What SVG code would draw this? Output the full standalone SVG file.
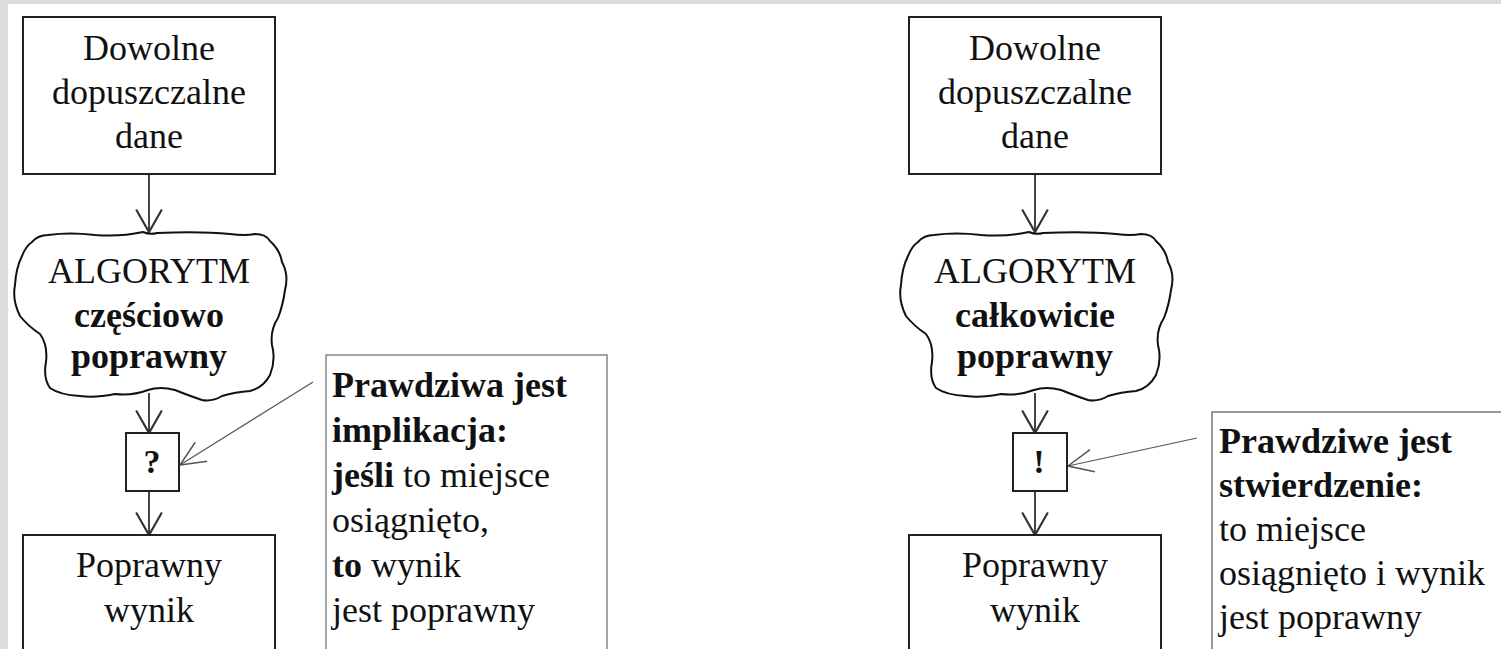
<svg xmlns="http://www.w3.org/2000/svg" width="1501" height="649" viewBox="0 0 1501 649">
<defs>
<style>
text{font-family:'Liberation Serif','Times New Roman',serif;font-size:36px;fill:#111}
.c{text-anchor:middle}
.b{font-weight:bold}
.box{fill:#fff;stroke:#222;stroke-width:2}
.note{fill:#fff;stroke:#777;stroke-width:1.3}
.cloud{fill:#fff;stroke:#111;stroke-width:2;stroke-linejoin:round}
.flow{stroke:#444;stroke-width:2;fill:none}
.ptr{stroke:#555;stroke-width:1.2;fill:none}
</style>
<marker id="ah" markerUnits="userSpaceOnUse" markerWidth="30" markerHeight="30" viewBox="-22 -14 24 28" refX="0" refY="0" orient="auto">
<path d="M-21,-12 L0,0 L-21,12" fill="none" stroke="#333" stroke-width="2"/>
</marker>
<marker id="ap" markerUnits="userSpaceOnUse" markerWidth="30" markerHeight="30" viewBox="-22 -12 24 24" refX="0" refY="0" orient="auto">
<path d="M-20,-9 L0,0 L-20,9" fill="none" stroke="#555" stroke-width="1.2"/>
</marker>
<path id="cl" d="M32,242 Q38,235 48,235 Q70,232 95,235 Q120,237 143,232 Q150,235 157,233 Q200,231 230,234 Q245,236 255,234 Q266,234 270,241 Q280,250 282,262 Q289,275 285,290 Q283,305 278,318 Q270,330 272,345 Q276,360 270,375 Q263,388 250,391 Q235,392 222,396 Q212,402 202,400 Q190,396 175,390 Q160,386 148,390 Q132,396 115,394 Q95,398 80,396 Q60,395 50,388 Q43,378 46,362 Q48,345 40,334 Q28,326 20,316 Q12,300 15,285 Q16,268 22,256 Q26,246 32,242 Z"/>
</defs>
<rect x="0" y="0" width="1501" height="649" fill="#fff"/>
<rect x="0" y="0" width="1501" height="4" fill="#dcdcdc"/>
<rect x="0" y="0" width="8" height="649" fill="#dcdcdc"/>

<g id="connectors">
<line class="flow" x1="149" y1="174" x2="149" y2="232" marker-end="url(#ah)"/>
<line class="flow" x1="149" y1="393" x2="149" y2="433" marker-end="url(#ah)"/>
<line class="flow" x1="149" y1="491" x2="149" y2="535" marker-end="url(#ah)"/>
<line class="ptr" x1="313" y1="382" x2="180" y2="465" marker-end="url(#ap)"/>
<line class="flow" x1="1035" y1="174" x2="1035" y2="232" marker-end="url(#ah)"/>
<line class="flow" x1="1035" y1="393" x2="1035" y2="433" marker-end="url(#ah)"/>
<line class="flow" x1="1035" y1="491" x2="1035" y2="535" marker-end="url(#ah)"/>
<line class="ptr" x1="1197" y1="438" x2="1068" y2="466" marker-end="url(#ap)"/>
</g>

<g id="input-left">
<rect class="box" x="23" y="17" width="252" height="157"/>
<text class="c" x="149" y="60">Dowolne</text>
<text class="c" x="149" y="104">dopuszczalne</text>
<text class="c" x="149" y="148">dane</text>
</g>
<g id="algo-left">
<use href="#cl" class="cloud"/>
<text class="c" x="149" y="283">ALGORYTM</text>
<text class="c b" x="149" y="327">częściowo</text>
<text class="c b" x="149" y="368">poprawny</text>
</g>
<g id="check-left">
<rect class="box" x="126" y="433" width="53" height="58"/>
<text class="c b" x="152" y="473" style="font-size:34px">?</text>
</g>
<g id="output-left">
<rect class="box" x="23" y="535" width="252" height="130"/>
<text class="c" x="149" y="577">Poprawny</text>
<text class="c" x="149" y="622">wynik</text>
</g>
<g id="note-left">
<rect class="note" x="326" y="355" width="281" height="310"/>
<text x="332" y="397" class="b">Prawdziwa jest</text>
<text x="332" y="442" class="b">implikacja:</text>
<text x="332" y="487"><tspan class="b">jeśli</tspan> to miejsce</text>
<text x="332" y="532">osiągnięto,</text>
<text x="332" y="577"><tspan class="b">to</tspan> wynik</text>
<text x="332" y="622">jest poprawny</text>
</g>

<g id="input-right">
<rect class="box" x="909" y="17" width="252" height="157"/>
<text class="c" x="1035" y="60">Dowolne</text>
<text class="c" x="1035" y="104">dopuszczalne</text>
<text class="c" x="1035" y="148">dane</text>
</g>
<g id="algo-right">
<use href="#cl" class="cloud" transform="translate(886,0)"/>
<text class="c" x="1035" y="283">ALGORYTM</text>
<text class="c b" x="1035" y="327">całkowicie</text>
<text class="c b" x="1035" y="368">poprawny</text>
</g>
<g id="check-right">
<rect class="box" x="1013" y="433" width="54" height="58"/>
<text class="c b" x="1039" y="473" style="font-size:34px">!</text>
</g>
<g id="output-right">
<rect class="box" x="909" y="535" width="252" height="130"/>
<text class="c" x="1035" y="577">Poprawny</text>
<text class="c" x="1035" y="622">wynik</text>
</g>
<g id="note-right">
<rect class="note" x="1212" y="412" width="320" height="260" style="stroke:#999;stroke-width:2"/>
<text x="1219" y="453" class="b">Prawdziwe jest</text>
<text x="1219" y="497" class="b">stwierdzenie:</text>
<text x="1219" y="541">to miejsce</text>
<text x="1219" y="585">osiągnięto i wynik</text>
<text x="1219" y="629">jest poprawny</text>
</g>
</svg>
